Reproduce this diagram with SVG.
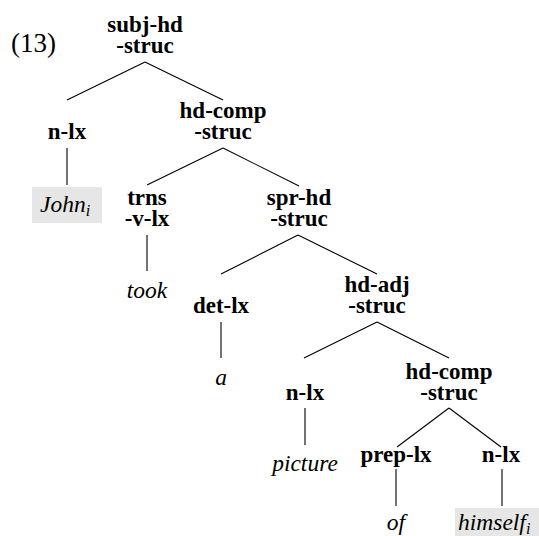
<svg xmlns="http://www.w3.org/2000/svg" width="539" height="536" viewBox="0 0 539 536">
<style>
text{font-family:"Liberation Serif","Times New Roman",serif;fill:#000}
.lbl{font-weight:bold;font-size:23px;text-anchor:middle}
.word{font-style:italic;font-size:23.5px}
.mid{text-anchor:middle}
.sub{font-size:16px}
.num{font-size:27px}
.hl{fill:#e6e6e6}
.edges line{stroke:#000;stroke-width:1.1}
</style>
<rect width="539" height="536" fill="#fff"/>
<text class="num" x="11" y="52">(13)</text>
<g class="edges" id="connectors">
<line x1="145" y1="62" x2="67" y2="100"/>
<line x1="145" y1="62" x2="223" y2="100"/>
<line x1="67" y1="148" x2="67" y2="185"/>
<line x1="223" y1="148" x2="147" y2="185"/>
<line x1="223" y1="148" x2="299" y2="186"/>
<line x1="147" y1="235" x2="147" y2="271"/>
<line x1="298" y1="235" x2="221" y2="274"/>
<line x1="298" y1="235" x2="377" y2="274"/>
<line x1="221" y1="322" x2="221" y2="358"/>
<line x1="377" y1="322" x2="304" y2="358"/>
<line x1="377" y1="322" x2="449" y2="358"/>
<line x1="305" y1="408" x2="305" y2="445"/>
<line x1="449" y1="408" x2="397" y2="447"/>
<line x1="449" y1="408" x2="501" y2="447"/>
<line x1="396" y1="469" x2="396" y2="506"/>
<line x1="502" y1="469" x2="502" y2="506"/>
</g>
<g id="subj-hd"><text class="lbl" x="145" y="32">subj-hd</text><text class="lbl" x="145" y="53">-struc</text></g>
<g id="n-lx-1"><text class="lbl" x="67" y="139">n-lx</text></g>
<g id="hd-comp-1"><text class="lbl" x="223" y="118">hd-comp</text><text class="lbl" x="223" y="139">-struc</text></g>
<g id="john"><rect class="hl" x="32" y="187" width="70" height="36"/><text class="word" x="40" y="212">John<tspan class="sub" dy="4">i</tspan></text></g>
<g id="trns"><text class="lbl" x="147" y="205">trns</text><text class="lbl" x="147" y="226">-v-lx</text></g>
<g id="spr-hd"><text class="lbl" x="299" y="205">spr-hd</text><text class="lbl" x="299" y="226">-struc</text></g>
<g id="took"><text class="word mid" x="147" y="298">took</text></g>
<g id="det-lx"><text class="lbl" x="221" y="313">det-lx</text></g>
<g id="hd-adj"><text class="lbl" x="377" y="292">hd-adj</text><text class="lbl" x="377" y="313">-struc</text></g>
<g id="a"><text class="word mid" x="221" y="385">a</text></g>
<g id="n-lx-2"><text class="lbl" x="305" y="400">n-lx</text></g>
<g id="hd-comp-2"><text class="lbl" x="449" y="379">hd-comp</text><text class="lbl" x="449" y="400">-struc</text></g>
<g id="picture"><text class="word mid" x="305" y="471">picture</text></g>
<g id="prep-lx"><text class="lbl" x="396" y="462">prep-lx</text></g>
<g id="n-lx-3"><text class="lbl" x="501" y="462">n-lx</text></g>
<g id="of"><text class="word mid" x="396" y="530">of</text></g>
<g id="himself"><rect class="hl" x="455" y="508" width="88" height="36"/><text class="word" x="458" y="530">himself<tspan class="sub" dy="4">i</tspan></text></g>
</svg>
